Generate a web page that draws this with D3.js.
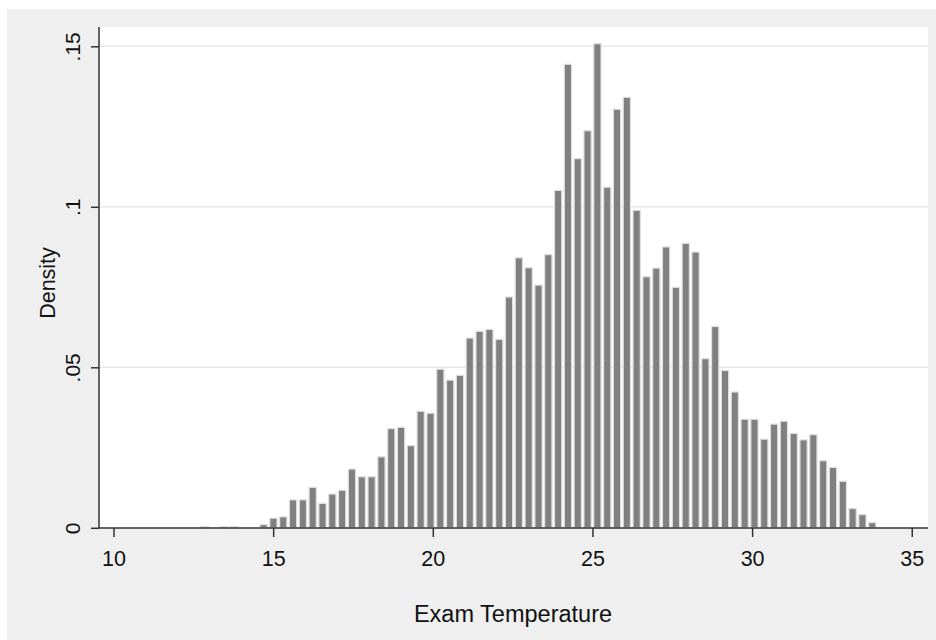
<!DOCTYPE html>
<html>
<head>
<meta charset="utf-8">
<script src="https://cdn.jsdelivr.net/npm/d3@7"></script>
<style>
  html, body { margin: 0; padding: 0; background: #fff; }
  svg text { font-family: "Liberation Sans", Arial, sans-serif; fill: #111; }
</style>
</head>
<body>
<svg id="chart" width="936" height="640"></svg>
<script>
// histogram of exam temperature, density scale
var binStart = 12.703, binWidth = 0.30745;
var density = [
  0.0004, 0, 0.0004, 0.0004, 0, 0, 0.001, 0.003, 0.0034, 0.0087,
  0.0087, 0.0126, 0.0076, 0.0105, 0.0117, 0.0183, 0.0159, 0.0159, 0.0221, 0.0309,
  0.0313, 0.0256, 0.0363, 0.0357, 0.0494, 0.0460, 0.0475, 0.0591, 0.0612, 0.0618,
  0.0587, 0.0719, 0.0841, 0.0810, 0.0756, 0.0851, 0.1051, 0.1444, 0.1150, 0.1237,
  0.1508, 0.1061, 0.1304, 0.1341, 0.0989, 0.0782, 0.0809, 0.0875, 0.0749, 0.0886,
  0.0859, 0.0527, 0.0627, 0.0490, 0.0423, 0.0338, 0.0338, 0.0276, 0.0323, 0.0332,
  0.0294, 0.0274, 0.0290, 0.0209, 0.0188, 0.0145, 0.0060, 0.0041, 0.0016
];
var xTicks = [10, 15, 20, 25, 30, 35];
var yTicks = [0, 0.05, 0.1, 0.15];
var yTickLabels = ["0", ".05", ".1", ".15"];
var xTitle = "Exam Temperature", yTitle = "Density";

var svg = d3.select("#chart");
var plotLeft = 99, plotRight = 928, plotTop = 27, plotBottom = 528;

var x = d3.scaleLinear().domain([10, 35]).range([113.5, 911.75]);
var y = d3.scaleLinear().domain([0, 0.15]).range([527.8, 46.3]);

// outer background and plot region
svg.append("rect").attr("x", 7).attr("y", 9).attr("width", 929).attr("height", 631).attr("fill", "#efefef");
svg.append("rect").attr("x", plotLeft).attr("y", plotTop)
   .attr("width", plotRight - plotLeft).attr("height", plotBottom - plotTop).attr("fill", "#fff");

// gridlines
svg.append("g").selectAll("line")
   .data(yTicks.filter(function(d){ return d > 0; })).enter()
   .append("line")
   .attr("x1", plotLeft).attr("x2", plotRight)
   .attr("y1", function(d){ return y(d); }).attr("y2", function(d){ return y(d); })
   .attr("stroke", "#e8e8e8").attr("stroke-width", 1.5);

// bars
var bins = density.map(function(d, i){
  return { x0: binStart + i * binWidth, x1: binStart + (i + 1) * binWidth, d: d };
});
svg.append("g").selectAll("rect")
   .data(bins.filter(function(b){ return b.d > 0; })).enter()
   .append("rect")
   .attr("x", function(b){ return x(b.x0) + 1.3; })
   .attr("width", function(b){ return x(b.x1) - x(b.x0) - 2.6; })
   .attr("y", function(b){ return y(b.d); })
   .attr("height", function(b){ return y(0) - y(b.d); })
   .attr("fill", "#808080")
   .attr("stroke", "#dedede")
   .attr("stroke-width", 1.2);

// y axis
var yAxis = d3.axisLeft(y).tickValues(yTicks).tickSize(8)
   .tickFormat(function(d, i){ return yTickLabels[i]; });
var gy = svg.append("g").attr("transform", "translate(" + plotLeft + ",0)").call(yAxis);
gy.select(".domain").attr("d", "M0," + plotTop + "V" + plotBottom).attr("stroke", "#333").attr("stroke-width", 1.5);
gy.selectAll(".tick line").attr("stroke", "#333").attr("stroke-width", 1.5);
gy.selectAll(".tick text")
   .attr("x", null).attr("dy", null)
   .attr("transform", "translate(-19,0) rotate(-90)")
   .attr("text-anchor", "middle")
   .attr("font-size", 21);

// x axis
var xAxis = d3.axisBottom(x).tickValues(xTicks).tickSize(9).tickFormat(d3.format("d"));
var gx = svg.append("g").attr("transform", "translate(0," + plotBottom + ")").call(xAxis);
gx.select(".domain").attr("d", "M" + plotLeft + ",0H" + plotRight).attr("stroke", "#333").attr("stroke-width", 1.5);
gx.selectAll(".tick line").attr("stroke", "#333").attr("stroke-width", 1.5);
gx.selectAll(".tick text").attr("y", 38).attr("dy", null).attr("font-size", 21.5);
svg.selectAll(".tick text").attr("fill", "#111").attr("font-family", null);

// titles
svg.append("text").attr("x", 513).attr("y", 622).attr("text-anchor", "middle")
   .attr("font-size", 23.5).text(xTitle);
svg.append("text").attr("transform", "translate(55,283) rotate(-90)").attr("text-anchor", "middle")
   .attr("font-size", 21.5).text(yTitle);
</script>
</body>
</html>
